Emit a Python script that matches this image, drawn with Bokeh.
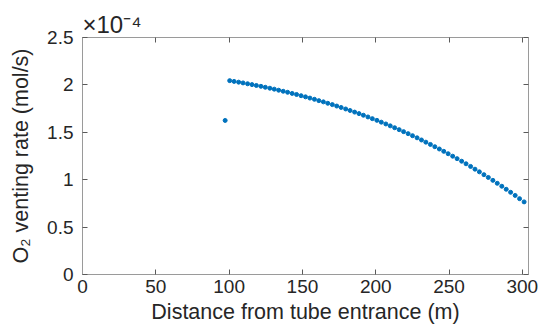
from bokeh.plotting import figure
from bokeh.models import Range1d, LinearAxis, FixedTicker, CustomJSTickFormatter, Title
from bokeh.embed import file_html
from bokeh.resources import INLINE

# Distance from tube entrance (m)
distance_m = [97.3, 100.4, 103.4, 106.5, 109.5, 112.6, 115.6, 118.6, 121.7, 124.7,
              127.8, 130.8, 133.8, 136.9, 139.9, 143.0, 146.0, 149.1, 152.1, 155.1,
              158.2, 161.2, 164.3, 167.3, 170.4, 173.4, 176.4, 179.5, 182.5, 185.6,
              188.6, 191.6, 194.7, 197.7, 200.8, 203.8, 206.9, 209.9, 212.9, 216.0,
              219.0, 222.1, 225.1, 228.2, 231.2, 234.2, 237.3, 240.3, 243.4, 246.4,
              249.4, 252.5, 255.5, 258.6, 261.6, 264.7, 267.7, 270.7, 273.8, 276.8,
              279.9, 282.9, 286.0, 289.0, 292.0, 295.1, 298.1, 301.2]
# O2 venting rate, in units of 1e-4 mol/s
rate_e4 = [1.625, 2.045, 2.037, 2.029, 2.021, 2.012, 2.003, 1.994, 1.985, 1.975,
           1.965, 1.955, 1.944, 1.933, 1.922, 1.910, 1.899, 1.886, 1.874, 1.861,
           1.848, 1.834, 1.821, 1.806, 1.792, 1.777, 1.762, 1.746, 1.730, 1.713,
           1.697, 1.680, 1.662, 1.644, 1.626, 1.607, 1.588, 1.568, 1.548, 1.528,
           1.507, 1.486, 1.464, 1.442, 1.419, 1.396, 1.372, 1.348, 1.324, 1.299,
           1.274, 1.248, 1.222, 1.195, 1.168, 1.140, 1.111, 1.083, 1.053, 1.024,
           0.993, 0.962, 0.931, 0.899, 0.867, 0.834, 0.800, 0.766]

x_ticks = [0, 50, 100, 150, 200, 250, 300]
y_ticks = [0, 0.5, 1, 1.5, 2, 2.5]
y_tick_labels = ["0", "0.5", "1", "1.5", "2", "2.5"]
x_label = "Distance from tube entrance (m)"
y_label = "O\u2082 venting rate (mol/s)"
exp_text = "\u00d710\u207b\u2074"

FONT = "Liberation Sans"
TXT = "#262626"
AXC = "#9a9a9a"
TKC = "#5a5a5a"

p = figure(width=540, height=329, output_backend="svg", toolbar_location=None,
           x_range=Range1d(0, 304.2), y_range=Range1d(0, 2.5),
           min_border_left=82, min_border_right=12, min_border_top=37, min_border_bottom=55)
p.outline_line_color = None
p.grid.visible = False
p.background_fill_color = "white"
p.border_fill_color = "white"

p.scatter(distance_m, rate_e4, size=4, color="#0072BD")

def style(ax):
    ax.axis_line_color = AXC
    ax.axis_line_width = 1
    ax.major_tick_line_color = TKC
    ax.major_tick_in = 5
    ax.major_tick_out = 0
    ax.minor_tick_line_color = None
    ax.major_label_text_font = FONT
    ax.major_label_text_font_size = "19px"
    ax.major_label_text_color = TXT
    ax.axis_label_text_font = FONT
    ax.axis_label_text_font_size = "21.5px"
    ax.axis_label_text_font_style = "normal"
    ax.axis_label_text_color = TXT

xa = p.xaxis[0]
xa.ticker = FixedTicker(ticks=x_ticks)
xa.axis_label = x_label
style(xa)
xa.major_label_standoff = 5
xa.axis_label_standoff = 4

ya = p.yaxis[0]
ya.ticker = FixedTicker(ticks=y_ticks)
ya.major_label_overrides = dict(zip(y_ticks, y_tick_labels))
ya.axis_label = y_label
style(ya)
ya.major_label_standoff = 9
ya.axis_label_standoff = 11

blank = CustomJSTickFormatter(code="return ''")
top = LinearAxis(ticker=FixedTicker(ticks=x_ticks), formatter=blank)
style(top)
top.major_label_standoff = 0
top.major_label_text_font_size = "1px"
p.add_layout(top, "above")
right = LinearAxis(ticker=FixedTicker(ticks=y_ticks), formatter=blank)
style(right)
right.major_label_text_font_size = "1px"
p.add_layout(right, "right")

p.title = Title(text=exp_text, align="left", offset=0, standoff=0,
                text_font=FONT, text_font_size="24px", text_font_style="normal",
                text_color=TXT)

open("out.html", "w").write(file_html(p, INLINE))
